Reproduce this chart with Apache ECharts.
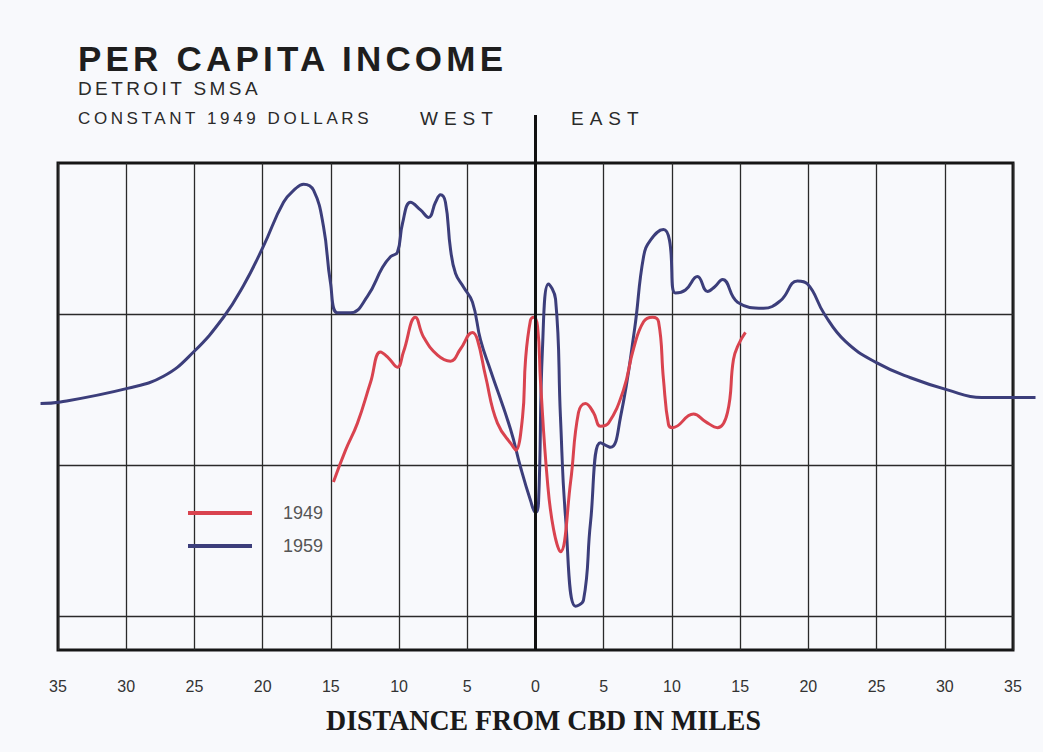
<!DOCTYPE html>
<html>
<head>
<meta charset="utf-8">
<script src="https://cdn.jsdelivr.net/npm/echarts@6/dist/echarts.min.js"></script>
<style>
  html, body { margin: 0; padding: 0; background: #f8f9fc; }
  #chart { width: 1043px; height: 752px; }
</style>
</head>
<body>
<div id="chart"></div>
<script>
// Distance from the CBD in miles (negative = west, positive = east)
const tickStep = 5;
const distanceMin = -35;
const distanceMax = 35;
// The 1959 curve runs a little past the frame on both sides
const outerMin = -37;
const outerMax = 37;

// Per capita income index, 1959 (distance, level)
const dist1959 = [
  -36.28, -34.82, -29.91, -27.27, -25.07, -22.87, -21.40, -19.94, -18.47, -17.59,
  -17.00, -16.27, -15.54, -15.03, -14.51, -13.56, -12.31, -11.21, -10.63, -10.12,
  -9.75, -9.16, -8.43, -7.84, -7.33, -6.96, -6.60, -6.23, -5.86, -5.28,
  -4.62, -4.03, -3.30, -1.83, -1.10, -0.37, 0.00, 0.22, 0.51, 0.95,
  1.47, 1.83, 2.20, 2.93, 3.52, 4.03, 4.76, 5.50, 6.23, 7.26,
  7.92, 8.43, 9.38, 9.82, 10.26, 10.99, 11.87, 12.61, 13.12, 13.71,
  14.81, 16.71, 17.96, 19.20, 19.94, 21.18, 22.72, 24.99, 27.49, 30.20,
  32.69, 35.26, 36.65
];
const income1959 = [
  1.41, 1.42, 1.51, 1.59, 1.75, 1.98, 2.19, 2.45, 2.74, 2.83,
  2.86, 2.82, 2.58, 2.21, 2.01, 2.01, 2.12, 2.31, 2.38, 2.41,
  2.60, 2.74, 2.69, 2.64, 2.74, 2.79, 2.74, 2.43, 2.27, 2.18,
  2.08, 1.83, 1.63, 1.24, 0.99, 0.77, 0.69, 0.75, 1.77, 2.20,
  2.10, 1.32, 0.66, 0.07, 0.11, 0.62, 1.15, 1.12, 1.32, 1.90,
  2.38, 2.49, 2.56, 2.49, 2.14, 2.16, 2.25, 2.15, 2.18, 2.23,
  2.08, 2.04, 2.09, 2.22, 2.20, 2.00, 1.82, 1.68, 1.58, 1.50,
  1.45, 1.45, 1.45
];

// Per capita income index, 1949
const dist1949 = [
  -14.81, -13.93, -13.05, -12.09, -11.36, -10.77, -10.12, -9.68, -8.80, -8.21,
  -7.18, -6.23, -5.50, -4.62, -4.25, -3.66, -2.79, -1.61, -1.45, -0.95,
  -0.73, -0.37, -0.15, 0.15, 0.37, 0.88, 1.32, 1.83, 2.57, 3.15,
  3.66, 4.25, 4.76, 5.35, 6.45, 7.18, 7.92, 8.58, 9.02, 9.38,
  9.75, 10.04, 11.58, 12.46, 13.34, 14.07, 14.51, 14.88, 15.39
];
const income1949 = [
  0.89, 1.10, 1.28, 1.55, 1.75, 1.71, 1.65, 1.75, 1.98, 1.85,
  1.73, 1.69, 1.77, 1.88, 1.83, 1.59, 1.28, 1.12, 1.10, 1.32,
  1.70, 1.96, 1.98, 1.92, 1.55, 0.89, 0.58, 0.43, 0.89, 1.35,
  1.41, 1.35, 1.26, 1.28, 1.50, 1.77, 1.95, 1.98, 1.95, 1.57,
  1.27, 1.25, 1.34, 1.29, 1.25, 1.35, 1.70, 1.80, 1.88
];

const seriesNames = ['1949', '1959'];
const guideLevels = [0, 1, 2];
const levelMin = -0.22;
const levelMax = 3.0;

const titleText = 'PER CAPITA INCOME';
const subTitle1 = 'DETROIT SMSA';
const subTitle2 = 'CONSTANT 1949 DOLLARS';
const westText = 'WEST';
const eastText = 'EAST';
const axisTitle = 'DISTANCE FROM CBD IN MILES';

const zip = (xs, ys) => xs.map((x, i) => [x, ys[i]]);

const RED = '#d9434f';
const BLUE = '#3c3e7b';
const SANS = '"Liberation Sans", Arial, sans-serif';
const NARROW = '"Liberation Sans Narrow", "Liberation Sans", Arial, sans-serif';

// Frame geometry
const frameLeft = 58, frameRight = 30, frameTop = 163, frameBottom = 102;
const pxPerMile = (1043 - frameLeft - frameRight) / (distanceMax - distanceMin);
const outerLeft = frameLeft - (distanceMin - outerMin) * pxPerMile;
const outerRight = frameRight - (outerMax - distanceMax) * pxPerMile;

const hiddenAxis = {
  axisLine: { show: false }, axisTick: { show: false },
  axisLabel: { show: false }, splitLine: { show: false }
};

const chart = echarts.init(document.getElementById('chart'), null, { renderer: 'svg' });

chart.setOption({
  animation: false,
  backgroundColor: '#f8f9fc',
  grid: [
    {
      left: frameLeft, right: frameRight, top: frameTop, bottom: frameBottom,
      show: true, borderColor: '#161616', borderWidth: 3, backgroundColor: 'transparent'
    },
    {
      left: outerLeft, right: outerRight, top: frameTop, bottom: frameBottom, show: false
    }
  ],
  xAxis: [
    {
      type: 'value', gridIndex: 0,
      min: distanceMin, max: distanceMax, interval: tickStep,
      axisLine: { show: false },
      axisTick: { show: false },
      axisLabel: {
        margin: 28, color: '#333', fontSize: 16, fontFamily: NARROW,
        formatter: v => String(Math.abs(v))
      },
      splitLine: { show: true, lineStyle: { color: '#2a2a2a', width: 1.3 } }
    },
    Object.assign({ type: 'value', gridIndex: 1, min: outerMin, max: outerMax }, hiddenAxis)
  ],
  yAxis: [
    Object.assign({ type: 'value', gridIndex: 0, min: levelMin, max: levelMax }, hiddenAxis),
    Object.assign({ type: 'value', gridIndex: 1, min: levelMin, max: levelMax }, hiddenAxis)
  ],
  legend: {
    orient: 'vertical', left: 188, top: 504, padding: 0,
    itemWidth: 64, itemHeight: 4, itemGap: 15, icon: 'rect',
    data: seriesNames,
    textStyle: { color: '#555', fontSize: 18, fontFamily: NARROW, padding: [0, 0, 0, 26] }
  },
  series: [
    {
      name: 'guides', type: 'line', data: [], silent: true, z: 1,
      xAxisIndex: 0, yAxisIndex: 0,
      markLine: {
        silent: true, symbol: 'none', z: 1,
        label: { show: false },
        lineStyle: { color: '#2a2a2a', width: 1.3, type: 'solid' },
        data: guideLevels.map(v => ({ yAxis: v }))
      }
    },
    {
      name: '1959', type: 'line', data: zip(dist1959, income1959),
      xAxisIndex: 1, yAxisIndex: 1,
      showSymbol: false, smooth: 0.45, clip: false, z: 3,
      itemStyle: { color: BLUE },
      lineStyle: { color: BLUE, width: 3 }
    },
    {
      name: '1949', type: 'line', data: zip(dist1949, income1949),
      xAxisIndex: 0, yAxisIndex: 0,
      showSymbol: false, smooth: 0.45, clip: false, z: 4,
      itemStyle: { color: RED },
      lineStyle: { color: RED, width: 3 }
    }
  ]
});

// Center divider (0 miles) rising above the frame between WEST and EAST
const x0 = chart.convertToPixel({ xAxisIndex: 0 }, 0);
const yBottom = chart.convertToPixel({ yAxisIndex: 0 }, levelMin);

chart.setOption({
  graphic: [
    { type: 'line', z: 10, shape: { x1: x0, y1: 115, x2: x0, y2: yBottom },
      style: { stroke: '#111', lineWidth: 3 } },
    { type: 'text', z: 10, style: { x: 78, y: 58, text: titleText, verticalAlign: 'middle',
      font: 'bold 35px ' + SANS, fill: '#1e1e1e' } },
    { type: 'text', z: 10, style: { x: 78, y: 88, text: subTitle1, verticalAlign: 'middle',
      font: '19px ' + SANS, fill: '#2a2a2a' } },
    { type: 'text', z: 10, style: { x: 78, y: 118, text: subTitle2, verticalAlign: 'middle',
      font: '17px ' + SANS, fill: '#2a2a2a' } },
    { type: 'text', z: 10, style: { x: 420, y: 118, text: westText, verticalAlign: 'middle',
      font: '19px ' + SANS, fill: '#2a2a2a' } },
    { type: 'text', z: 10, style: { x: 571, y: 118, text: eastText, verticalAlign: 'middle',
      font: '19px ' + SANS, fill: '#2a2a2a' } },
    { type: 'text', z: 10, x: x0 + 8, y: 720, scaleX: 0.93,
      style: { x: 0, y: 0, text: axisTitle, align: 'center', verticalAlign: 'middle',
      font: 'bold 30px "Liberation Serif", "Times New Roman", serif', fill: '#1a1a1a' } }
  ]
});

// Wide tracking on the heading lines
const tracking = {};
tracking[titleText] = 4.2;
tracking[subTitle1] = 3.4;
tracking[subTitle2] = 3.6;
tracking[westText] = 6;
tracking[eastText] = 6;
document.querySelectorAll('#chart text').forEach(t => {
  const s = tracking[t.textContent];
  if (s) t.setAttribute('letter-spacing', s);
});
</script>
</body>
</html>
